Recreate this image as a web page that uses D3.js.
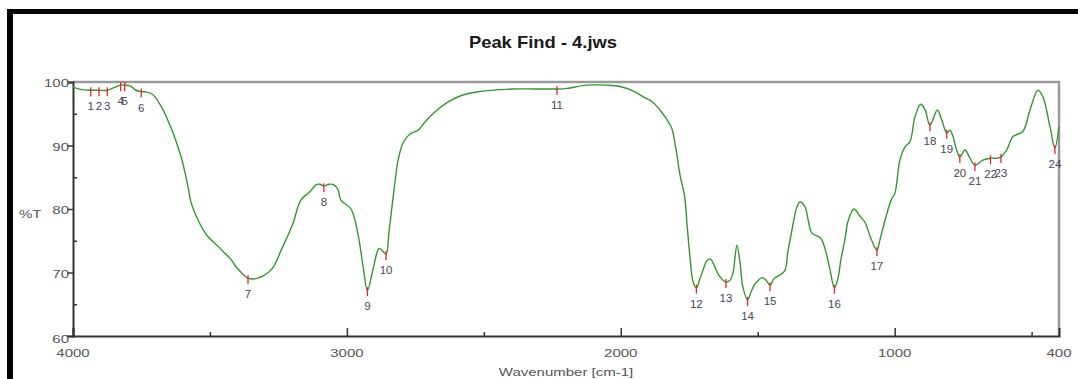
<!DOCTYPE html>
<html>
<head>
<meta charset="utf-8">
<script src="https://cdn.jsdelivr.net/npm/d3@7"></script>
<style>
  body { margin: 0; background: #fff; }
  svg { display: block; font-family: "Liberation Sans", Arial, sans-serif; }
</style>
</head>
<body>
<svg id="chart" width="1078" height="379"></svg>
<script>
// spectrum
const wavenumber = [4000, 3967, 3935, 3905, 3875, 3850, 3826, 3811, 3792, 3770, 3751, 3730, 3708, 3690, 3671, 3653, 3635, 3617, 3602, 3580,
  3569, 3544, 3512, 3463, 3424, 3399, 3361, 3336, 3304, 3273, 3237, 3198, 3168, 3135, 3113, 3098, 3084, 3065, 3047, 3032,
  3022, 2985, 2959, 2941, 2925, 2902, 2883, 2872, 2857, 2846, 2828, 2813, 2795, 2770, 2740, 2715, 2678, 2636, 2587, 2514,
  2394, 2313, 2233, 2196, 2123, 2050, 2003, 1955, 1919, 1886, 1857, 1835, 1814, 1798, 1784, 1767, 1758, 1747, 1736, 1724,
  1711, 1698, 1685, 1672, 1660, 1641, 1616, 1601, 1590, 1576, 1565, 1554, 1537, 1525, 1510, 1499, 1484, 1470, 1455, 1441,
  1428, 1402, 1390, 1371, 1357, 1346, 1327, 1316, 1302, 1270, 1251, 1236, 1220, 1207, 1196, 1182, 1170, 1149, 1127, 1107,
  1087, 1065, 1054, 1039, 1013, 999, 981, 962, 944, 926, 905, 889, 871, 844, 828, 810, 798, 787, 774, 762,
  743, 725, 707, 678, 650, 628, 612, 591, 568, 532, 506, 477, 459, 433, 415, 400];
const transmittance = [99.2, 98.8, 98.7, 98.7, 98.7, 99.1, 99.5, 99.5, 99.4, 98.7, 98.5, 98.4, 98.0, 97.0, 95.6, 93.9, 92.0, 89.8, 87.7, 83.5,
  81.0, 78.3, 75.9, 73.8, 72.1, 70.6, 69.1, 69.0, 69.5, 70.6, 73.8, 77.6, 81.4, 82.7, 83.8, 83.9, 83.6, 83.9, 83.8, 83.0,
  81.4, 80.0, 75.9, 71.0, 67.2, 71.0, 73.8, 73.5, 72.9, 76.5, 83.0, 87.7, 90.4, 91.8, 92.4, 93.7, 95.3, 96.7, 97.8, 98.5,
  98.9, 98.9, 98.9, 99.0, 99.5, 99.5, 99.3, 98.6, 97.7, 96.9, 95.6, 94.3, 92.7, 89.3, 85.4, 82.0, 77.5, 72.3, 68.5, 67.6,
  69.0, 70.6, 71.9, 72.1, 71.2, 69.5, 68.5, 68.8, 70.0, 74.3, 71.7, 67.7, 65.7, 66.9, 68.2, 68.7, 69.2, 68.8, 68.0, 69.0,
  69.4, 70.2, 73.2, 77.6, 80.3, 81.1, 80.3, 78.3, 76.2, 75.4, 73.2, 70.4, 67.6, 69.1, 72.1, 75.1, 78.1, 80.0, 78.9, 77.8,
  75.4, 73.5, 75.1, 77.6, 81.4, 82.5, 87.7, 89.8, 90.6, 94.5, 96.5, 95.6, 93.2, 95.6, 94.0, 92.0, 92.4, 91.4, 89.3, 88.2,
  89.3, 88.0, 86.9, 87.7, 88.0, 88.0, 88.2, 89.3, 91.4, 92.2, 95.6, 98.7, 97.7, 93.0, 89.6, 93.0];

// peak-find markers
const peakNo = [1, 2, 3, 4, 5, 6, 7, 8, 9, 10, 11, 12, 13, 14, 15, 16, 17, 18, 19, 20, 21, 22, 23, 24];
const peakWn = [3935, 3905, 3875, 3826, 3811, 3751, 3361, 3084, 2925, 2857, 2233, 1724, 1616, 1537, 1455, 1220, 1065, 871, 810, 762, 707, 650, 612, 415];
const peakT = [98.7, 98.7, 98.7, 99.5, 99.5, 98.5, 69.1, 83.6, 67.2, 72.9, 98.9, 67.6, 68.5, 65.7, 68.0, 67.6, 73.5, 93.2, 92.0, 88.2, 86.9, 88.0, 88.2, 89.6];

const xMajor = [4000, 3000, 2000, 1000];
const xMinor = [3500, 2500, 1500, 500];
const xLabels = [4000, 3000, 2000, 1000, 400];
const yMajor = [60, 70, 80, 90, 100];
const yMinor = [65, 75, 85, 95];

(function() {
    const svg = d3.select("#chart");
    const pLeft = 73, pRight = 1059, pTop = 82, pBottom = 336;
    const stretch = 1.5;

    const x = d3.scaleLinear().domain([4000, 400]).range([pLeft, pRight]);
    const y = d3.scaleLinear().domain([60, 100]).range([pBottom, pTop]);

    // black frame of the screenshot
    svg.append("rect").attr("x", 7).attr("y", 9).attr("width", 1071).attr("height", 5).attr("fill", "#000");
    svg.append("rect").attr("x", 7).attr("y", 9).attr("width", 6).attr("height", 370).attr("fill", "#000");

    svg.append("text")
        .attr("transform", "translate(543,48) scale(1.15,1)")
        .attr("text-anchor", "middle")
        .attr("font-size", 16).attr("font-weight", "bold").attr("fill", "#1a1a1a")
        .text("Peak Find - 4.jws");

    // grey top / right frame
    svg.append("path")
        .attr("d", `M${pLeft},${pTop}H${pRight}V${pBottom}`)
        .attr("fill", "none").attr("stroke", "#9a9a9a").attr("stroke-width", 2.5);

    // axes
    const gx = svg.append("g").attr("transform", `translate(0,${pBottom})`)
        .call(d3.axisBottom(x).tickValues(xMajor).tickSize(-8).tickFormat(""));
    gx.append("g").call(d3.axisBottom(x).tickValues(xMinor).tickSize(-4).tickFormat(""))
        .select(".domain").remove();

    const gy = svg.append("g").attr("transform", `translate(${pLeft},0)`)
        .call(d3.axisLeft(y).tickValues(yMajor).tickSize(6).tickFormat(""));
    gy.append("g").call(d3.axisLeft(y).tickValues(yMinor).tickSize(-4).tickFormat(""))
        .select(".domain").remove();

    svg.selectAll(".domain").attr("stroke", "#333").attr("stroke-width", 2);
    svg.selectAll(".tick line").attr("stroke", "#333").attr("stroke-width", 1.5);

    svg.append("g").selectAll("text").data(xLabels).join("text")
        .attr("transform", d => `translate(${x(d)},${pBottom + 21}) scale(${stretch},1)`)
        .attr("text-anchor", "middle")
        .attr("font-size", 10).attr("fill", "#555")
        .text(d => d);

    svg.append("g").selectAll("text").data(yMajor).join("text")
        .attr("transform", d => `translate(${pLeft - 4},${y(d) + 4 + (d === 60 ? 3 : 1)}) scale(${stretch},1)`)
        .attr("text-anchor", "end")
        .attr("font-size", 10).attr("fill", "#555")
        .text(d => d);

    svg.append("text")
        .attr("transform", `translate(${(pLeft + pRight) / 2},376) scale(${stretch},1)`)
        .attr("text-anchor", "middle")
        .attr("font-size", 10).attr("fill", "#555")
        .text("Wavenumber [cm-1]");

    svg.append("text")
        .attr("transform", `translate(19,218) scale(${stretch},1)`)
        .attr("font-size", 10).attr("fill", "#555")
        .text("%T");

    // spectrum
    const pts = wavenumber.map((w, i) => [w, transmittance[i]]);
    const line = d3.line()
        .x(d => x(d[0]))
        .y(d => y(d[1]))
        .curve(d3.curveCatmullRom.alpha(0.5));

    svg.append("path")
        .datum(pts)
        .attr("d", line)
        .attr("fill", "none")
        .attr("stroke", "#34982f")
        .attr("stroke-width", 1.4);

    // peaks
    const peaks = peakNo.map((n, i) => ({ n, w: peakWn[i], t: peakT[i] }));
    const gp = svg.append("g");
    gp.selectAll("line").data(peaks).join("line")
        .attr("x1", d => x(d.w)).attr("x2", d => x(d.w))
        .attr("y1", d => y(d.t) - 3).attr("y2", d => y(d.t) + 6)
        .attr("stroke", "#e3262c").attr("stroke-width", 1.3);
    gp.selectAll("text").data(peaks).join("text")
        .attr("x", d => x(d.w))
        .attr("y", d => y(d.t) + 20)
        .attr("text-anchor", "middle")
        .attr("font-size", 11.5).attr("fill", "#43465a")
        .text(d => d.n);
})();
</script>
</body>
</html>
